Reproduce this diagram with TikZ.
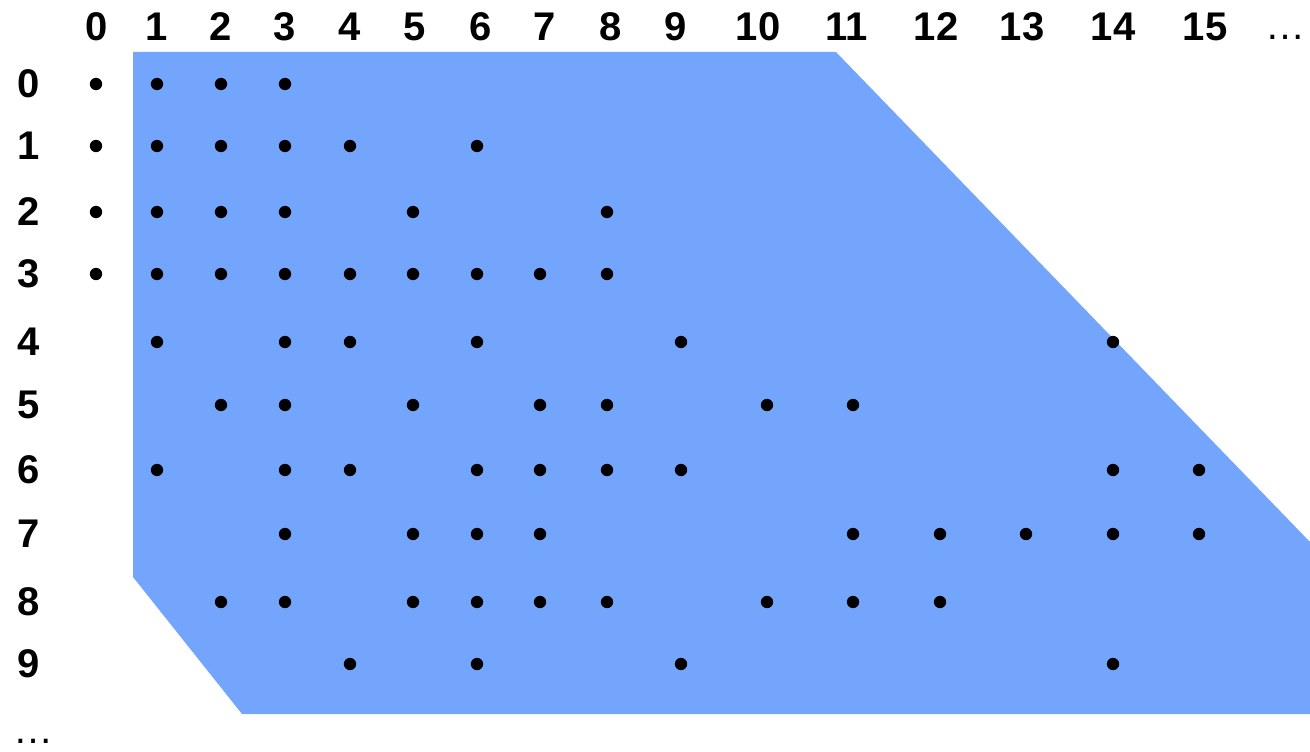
\documentclass[tikz,border=0pt]{standalone}
\usepackage{fontspec}
\setmainfont{Liberation Sans}
\definecolor{region}{RGB}{116,165,252}
\tikzset{
  lab/.style={font=\fontsize{40}{42}\selectfont\bfseries, inner sep=0pt},
  more/.style={font=\fontsize{40}{42}\selectfont, inner sep=0pt, anchor=base}
}
\begin{document}
\begin{tikzpicture}[x=1pt, y=-1pt]
  \useasboundingbox (0,0) rectangle (1310,752);
  % region
  \fill[region] (133,52) -- (836,52) -- (1310,542) -- (1310,714)
    -- (242,714) -- (133,577) -- cycle;
  % column labels and dot columns: col / label x / dot x
  \foreach \c/\lx/\dx in {0/97/96, 1/157/157, 2/221/221, 3/285/285,
      4/350/350, 5/415/413, 6/481/477, 7/545/540, 8/611/607, 9/676/681,
      10/758/767, 11/847/853, 12/936/940, 13/1022/1026, 14/1113/1113,
      15/1205/1199} {
    \node[lab] (c\c) at (\lx,27) {\c};
    \coordinate (col\c) at (\dx,0);
  }
  \node[more] (cmore) at (1285,40) {…};
  % rows: row / y / columns with a dot
  \foreach \r/\y/\cols in {
    0/84/{0,1,2,3},
    1/146/{0,1,2,3,4,6},
    2/212/{0,1,2,3,5,8},
    3/274/{0,1,2,3,4,5,6,7,8},
    4/342/{1,3,4,6,9,14},
    5/405/{2,3,5,7,8,10,11},
    6/470/{1,3,4,6,7,8,9,14,15},
    7/534/{3,5,6,7,11,12,13,14,15},
    8/602/{2,3,5,6,7,8,10,11,12},
    9/664/{4,6,9,14}} {
    \node[lab] (r\r) at (29,\y) {\r};
    \foreach \c in \cols \fill (col\c |- r\r) circle (6.2pt);
  }
  \node[more] (rmore) at (33,743) {…};
\end{tikzpicture}
\end{document}
